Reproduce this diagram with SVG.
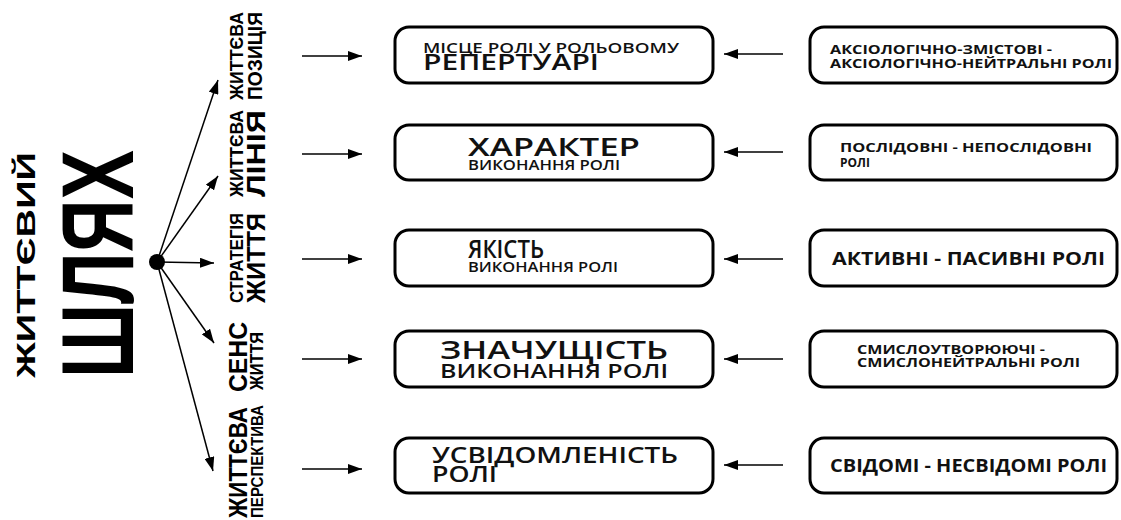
<svg xmlns="http://www.w3.org/2000/svg" width="1121" height="520" viewBox="0 0 1121 520">
<defs>
<marker id="ah" viewBox="0 0 14 10" refX="14" refY="5" markerWidth="14" markerHeight="10" markerUnits="userSpaceOnUse" orient="auto">
<path d="M0,0 L14,5 L0,10 z" fill="#000"/>
</marker>
<style>
.box{fill:#fff;stroke:#000;stroke-width:3}
.conn{stroke:#000;stroke-width:1.5;fill:none;marker-end:url(#ah)}
.mid{font-family:"Open Sans","Liberation Sans",sans-serif;font-weight:600;fill:#111}
.rt{font-family:"Open Sans","Liberation Sans",sans-serif;font-weight:700;fill:#111}
.rot{font-family:"Liberation Sans","Open Sans",sans-serif;font-weight:700;fill:#000}
</style>
</defs>
<rect width="1121" height="520" fill="#fff"/>

<g id="title">
<text class="rot" font-size="25" textLength="226" lengthAdjust="spacingAndGlyphs" transform="translate(35,378) rotate(-90)">ЖИТТЄВИЙ</text>
<text class="rot" font-size="102" textLength="228" lengthAdjust="spacingAndGlyphs" transform="translate(133,378) rotate(-90)">ШЛЯХ</text>
</g>

<g id="hub"><circle cx="157" cy="262" r="8" fill="#000"/></g>

<g id="label-pozytsiia">
<text class="rot" font-size="18" textLength="88" lengthAdjust="spacingAndGlyphs" transform="translate(243,100) rotate(-90)">ЖИТТЄВА</text>
<text class="rot" font-size="21" textLength="88" lengthAdjust="spacingAndGlyphs" transform="translate(262,100) rotate(-90)">ПОЗИЦІЯ</text>
</g>
<g id="label-liniia">
<text class="rot" font-size="18" textLength="87" lengthAdjust="spacingAndGlyphs" transform="translate(243,197) rotate(-90)">ЖИТТЄВА</text>
<text class="rot" font-size="26" textLength="87" lengthAdjust="spacingAndGlyphs" transform="translate(265,197) rotate(-90)">ЛІНІЯ</text>
</g>
<g id="label-stratehiia">
<text class="rot" font-size="18" textLength="90" lengthAdjust="spacingAndGlyphs" transform="translate(243,303) rotate(-90)">СТРАТЕГІЯ</text>
<text class="rot" font-size="26" textLength="90" lengthAdjust="spacingAndGlyphs" transform="translate(265,303) rotate(-90)">ЖИТТЯ</text>
</g>
<g id="label-sens">
<text class="rot" font-size="25" textLength="70" lengthAdjust="spacingAndGlyphs" transform="translate(247,392) rotate(-90)">СЕНС</text>
<text class="rot" font-size="18" textLength="58" lengthAdjust="spacingAndGlyphs" transform="translate(263,390) rotate(-90)">ЖИТТЯ</text>
</g>
<g id="label-perspektyva">
<text class="rot" font-size="25" textLength="111" lengthAdjust="spacingAndGlyphs" transform="translate(247,518) rotate(-90)">ЖИТТЄВА</text>
<text class="rot" font-size="17" textLength="113" lengthAdjust="spacingAndGlyphs" transform="translate(263,518) rotate(-90)">ПЕРСПЕКТИВА</text>
</g>

<g id="connectors">
<line class="conn" x1="157" y1="262" x2="218" y2="80"/>
<line class="conn" x1="157" y1="262" x2="218" y2="176"/>
<line class="conn" x1="157" y1="262" x2="214" y2="263"/>
<line class="conn" x1="157" y1="262" x2="214" y2="343"/>
<line class="conn" x1="157" y1="262" x2="213" y2="471"/>
<line class="conn" x1="302" y1="56" x2="362" y2="56"/>
<line class="conn" x1="302" y1="154" x2="362" y2="154"/>
<line class="conn" x1="302" y1="259" x2="362" y2="259"/>
<line class="conn" x1="302" y1="359" x2="362" y2="359"/>
<line class="conn" x1="302" y1="469" x2="362" y2="469"/>
<line class="conn" x1="783" y1="54" x2="724" y2="54"/>
<line class="conn" x1="783" y1="152" x2="724" y2="152"/>
<line class="conn" x1="783" y1="259" x2="724" y2="259"/>
<line class="conn" x1="783" y1="359" x2="724" y2="359"/>
<line class="conn" x1="783" y1="465" x2="724" y2="465"/>
</g>

<g id="box-mistse">
<rect class="box" x="395" y="27" width="318" height="56" rx="14"/>
<text class="mid" x="423" y="53" font-size="15" textLength="256" lengthAdjust="spacingAndGlyphs">МІСЦЕ РОЛІ У РОЛЬОВОМУ</text>
<text class="mid" x="423" y="70" font-size="21" textLength="176" lengthAdjust="spacingAndGlyphs">РЕПЕРТУАРІ</text>
</g>
<g id="box-kharakter">
<rect class="box" x="395" y="125" width="318" height="55" rx="14"/>
<text class="mid" x="468" y="156" font-size="25" textLength="172" lengthAdjust="spacingAndGlyphs">ХАРАКТЕР</text>
<text class="mid" x="468" y="170" font-size="14" textLength="152" lengthAdjust="spacingAndGlyphs">ВИКОНАННЯ РОЛІ</text>
</g>
<g id="box-yakist">
<rect class="box" x="395" y="230" width="318" height="56" rx="14"/>
<text class="mid" x="468" y="258" font-size="25" textLength="76" lengthAdjust="spacingAndGlyphs">ЯКІСТЬ</text>
<text class="mid" x="468" y="272" font-size="14" textLength="150" lengthAdjust="spacingAndGlyphs">ВИКОНАННЯ РОЛІ</text>
</g>
<g id="box-znachushchist">
<rect class="box" x="395" y="331" width="318" height="56" rx="14"/>
<text class="mid" x="440" y="359" font-size="25" textLength="228" lengthAdjust="spacingAndGlyphs">ЗНАЧУЩІСТЬ</text>
<text class="mid" x="440" y="378" font-size="20" textLength="228" lengthAdjust="spacingAndGlyphs">ВИКОНАННЯ РОЛІ</text>
</g>
<g id="box-usvidomlenist">
<rect class="box" x="395" y="438" width="318" height="55" rx="14"/>
<text class="mid" x="432" y="463" font-size="21" textLength="246" lengthAdjust="spacingAndGlyphs">УСВІДОМЛЕНІСТЬ</text>
<text class="mid" x="432" y="482" font-size="21" textLength="65" lengthAdjust="spacingAndGlyphs">РОЛІ</text>
</g>

<g id="box-aksio">
<rect class="box" x="810" y="27" width="307" height="56" rx="14"/>
<text class="rt" x="830" y="54" font-size="13" textLength="222" lengthAdjust="spacingAndGlyphs">АКСІОЛОГІЧНО-ЗМІСТОВІ -</text>
<text class="rt" x="830" y="68" font-size="13" textLength="282" lengthAdjust="spacingAndGlyphs">АКСІОЛОГІЧНО-НЕЙТРАЛЬНІ РОЛІ</text>
</g>
<g id="box-poslidovni">
<rect class="box" x="810" y="125" width="307" height="55" rx="14"/>
<text class="rt" x="840" y="152" font-size="13" textLength="252" lengthAdjust="spacingAndGlyphs">ПОСЛІДОВНІ - НЕПОСЛІДОВНІ</text>
<text class="rt" x="840" y="167" font-size="13" textLength="30" lengthAdjust="spacingAndGlyphs">РОЛІ</text>
</g>
<g id="box-aktyvni">
<rect class="box" x="810" y="230" width="307" height="56" rx="14"/>
<text class="rt" x="832" y="265" font-size="17" textLength="273" lengthAdjust="spacingAndGlyphs">АКТИВНІ - ПАСИВНІ РОЛІ</text>
</g>
<g id="box-smyslo">
<rect class="box" x="810" y="331" width="307" height="56" rx="14"/>
<text class="rt" x="857" y="354" font-size="12" textLength="188" lengthAdjust="spacingAndGlyphs">СМИСЛОУТВОРЮЮЧІ -</text>
<text class="rt" x="857" y="367" font-size="12" textLength="223" lengthAdjust="spacingAndGlyphs">СМИСЛОНЕЙТРАЛЬНІ РОЛІ</text>
</g>
<g id="box-svidomi">
<rect class="box" x="810" y="438" width="307" height="55" rx="14"/>
<text class="rt" x="830" y="472" font-size="17" textLength="277" lengthAdjust="spacingAndGlyphs">СВІДОМІ - НЕСВІДОМІ РОЛІ</text>
</g>
</svg>
